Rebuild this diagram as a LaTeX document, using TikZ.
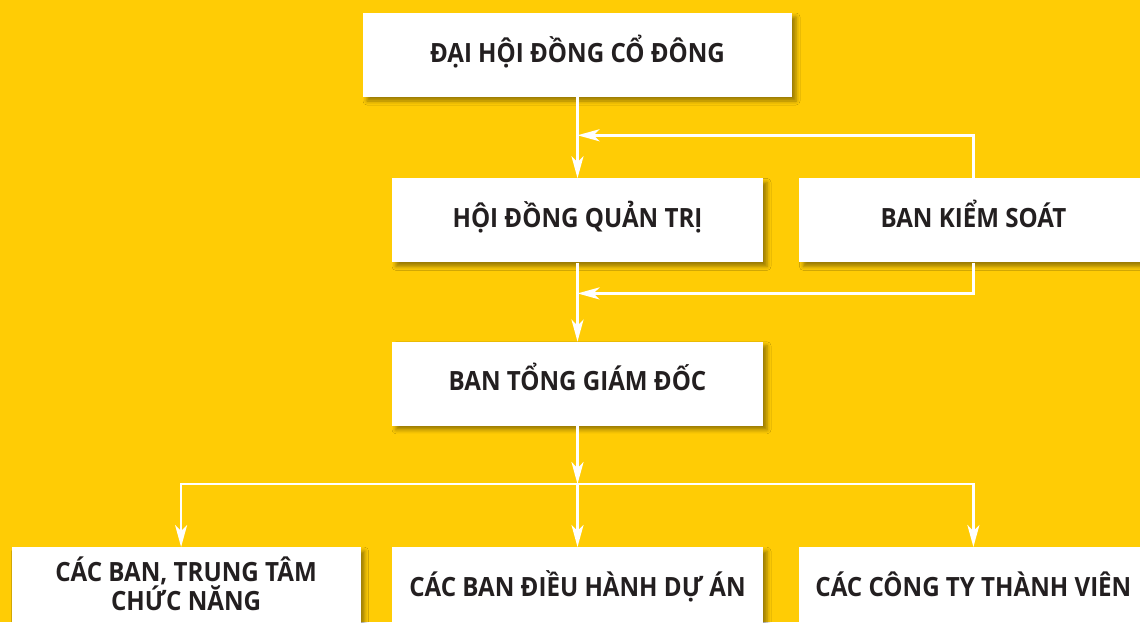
\documentclass[tikz,border=0pt]{standalone}
\usepackage{fontspec}
\newfontfamily\boxfont{Open Sans}[FakeStretch=0.91]
\usetikzlibrary{positioning,calc,arrows.meta,shadows.blur}
\definecolor{bgyellow}{HTML}{FFCC05}
\definecolor{inkdark}{HTML}{231F20}
\tikzset{
  box/.style={fill=white, minimum height=84pt, inner sep=0pt, align=center,
    text height=22pt, text depth=8pt,
    font=\boxfont\bfseries\fontsize{26.5}{29}\selectfont, text=inkdark,
    blur shadow={shadow xshift=4pt, shadow yshift=-4pt, shadow blur radius=4pt}},
  flow/.style={draw=white, line width=2.6pt, line join=miter,
    -{Stealth[length=22pt, width=12pt, inset=6pt]}},
  link/.style={draw=white, line width=2.6pt}
}

\begin{document}
\begin{tikzpicture}

  \clip (0,0) rectangle (1140pt,-622pt);
  \fill[bgyellow] (0,0) rectangle (1140pt,-622pt);

  % Define nodes
  \node[box, minimum width=429pt] at (577.5pt,-55pt) (dhcd) {ĐẠI HỘI ĐỒNG CỔ ĐÔNG};
  \node[box, minimum width=371pt, below=81pt of dhcd] (hdqt) {HỘI ĐỒNG QUẢN TRỊ};
  \node[box, minimum width=348pt, right=36pt of hdqt] (bks) {BAN KIỂM SOÁT};
  \node[box, minimum width=371pt, below=79pt of hdqt] (btgd) {BAN TỔNG GIÁM ĐỐC};
  \node[box, minimum width=371pt, below=121pt of btgd] (cbdh) {CÁC BAN ĐIỀU HÀNH DỰ ÁN};
  \node[box, minimum width=349pt, text height=51pt, left=31pt of cbdh] (cbtt) {CÁC BAN, TRUNG TÂM\\CHỨC NĂNG};
  \node[box, minimum width=348pt, right=36pt of cbdh] (ccty) {CÁC CÔNG TY THÀNH VIÊN};

  \coordinate (fb_1) at ($(dhcd.south)!0.47!(hdqt.north)$);
  \coordinate (fb_2) at ($(hdqt.south)!0.39!(btgd.north)$);
  \coordinate (jn) at ($(btgd.south)!0.48!(cbdh.north)$);

  % Connect the nodes
  \draw[flow] (dhcd) -- (hdqt);
  \draw[flow] (bks.north) |- (fb_1);
  \draw[flow] (hdqt) -- (btgd);
  \draw[flow] (bks.south) |- (fb_2);
  \draw[flow] (btgd) -- (jn);
  \draw[flow] (jn) -- (cbdh);
  \draw[flow] (jn) -| ([xshift=-5pt]cbtt.north);
  \draw[flow] (jn) -| (ccty.north);

\end{tikzpicture}
\end{document}
